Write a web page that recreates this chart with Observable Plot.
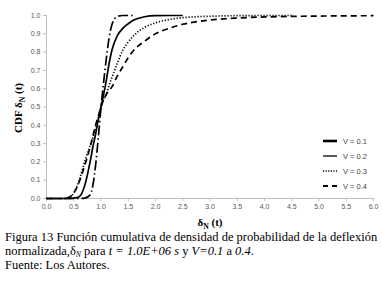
<!DOCTYPE html>
<html><head><meta charset="utf-8">
<script src="https://cdn.jsdelivr.net/npm/d3@7"></script>
<script src="https://cdn.jsdelivr.net/npm/@observablehq/plot@0.6"></script>
<style>
body{margin:0;background:#fff;}
#wrap{position:relative;width:382px;height:283px;overflow:hidden;}
#chart svg{display:block;}
.lbl{position:absolute;font-family:"Liberation Serif","Times New Roman",serif;font-weight:bold;color:#000;white-space:nowrap;line-height:12px;}
.lbl sub{font-size:70%;line-height:0;}
#ylab{left:18px;top:108px;font-size:11px;transform:translate(-50%,-50%) rotate(-90deg);}
#xlab{left:210px;top:222px;font-size:11px;transform:translate(-50%,-50%);}
#legend{position:absolute;left:322px;top:134px;}
#caption{position:absolute;left:5px;top:230px;font-family:"Liberation Serif","Times New Roman",serif;font-size:12.5px;line-height:14px;color:#000;white-space:nowrap;}
#caption sub{font-size:62%;font-style:italic;line-height:0;vertical-align:-1.5px;}
</style></head><body>
<div id="wrap">
<div id="chart"></div>
<div id="ylab" class="lbl">CDF δ<sub>N</sub> (t)</div>
<div id="xlab" class="lbl">δ<sub>N</sub> (t)</div>
<div id="legend"></div>
<div id="caption">Figura 13 Función cumulativa de densidad de probabilidad de la deflexión<br>normalizada,δ<sub>N</sub> para <i>t = 1.0E+06 s</i> y <i>V=0.1</i> a <i>0.4</i>.<br>Fuente: Los Autores.</div>
</div>
<script>
const xGrid = [0, 0.3, 0.4, 0.5, 0.6, 0.7, 0.8, 0.85, 0.9, 0.95, 1.0, 1.05, 1.1, 1.15, 1.2, 1.3, 1.4, 1.5, 1.6, 1.8, 2.0, 2.25, 2.5, 3.0, 3.5, 4.0, 4.5, 5.0, 5.5, 6.0];
const v01 = [0, 0, 0, 0, 0, 0.002, 0.02, 0.07, 0.18, 0.33, 0.5, 0.64, 0.77, 0.88, 0.95, 0.995, 1.0, 1.0, 1.0, null, null, null, null, null, null, null, null, null, null, null];
const v02 = [0, 0, 0, 0.002, 0.01, 0.07, 0.2, 0.28, 0.35, 0.43, 0.5, 0.57, 0.65, 0.74, 0.81, 0.89, 0.93, 0.955, 0.975, 0.993, 0.999, 1.0, 1.0, null, null, null, null, null, null, null];
const v03 = [0, 0, 0.002, 0.03, 0.1, 0.2, 0.29, 0.33, 0.38, 0.44, 0.5, 0.54, 0.57, 0.62, 0.66, 0.74, 0.81, 0.855, 0.89, 0.935, 0.96, 0.978, 0.988, 0.996, 0.999, 1.0, 1.0, null, null, null];
const v04 = [0, 0, 0.005, 0.03, 0.09, 0.18, 0.28, 0.34, 0.4, 0.45, 0.5, 0.54, 0.57, 0.59, 0.61, 0.67, 0.72, 0.77, 0.81, 0.86, 0.9, 0.93, 0.952, 0.975, 0.986, 0.992, 0.995, 0.997, 0.998, 0.999];
const seriesNames = ["V = 0.1", "V = 0.2", "V = 0.3", "V = 0.4"];
const xTicks = [0, 0.5, 1, 1.5, 2, 2.5, 3, 3.5, 4, 4.5, 5, 5.5, 6];
const yTicks = [0, 0.1, 0.2, 0.3, 0.4, 0.5, 0.6, 0.7, 0.8, 0.9, 1.0];

const styles = [
  {strokeWidth: 1.7, strokeDasharray: "10,3,1.5,3", legendWidth: 2.6, legendDash: "14"},
  {strokeWidth: 1.7, strokeDasharray: null, legendWidth: 1.3, legendDash: null},
  {strokeWidth: 1.7, strokeDasharray: "1.2,1.8", legendWidth: 1.5, legendDash: "1.2,1.4"},
  {strokeWidth: 1.7, strokeDasharray: "6,4", legendWidth: 2.2, legendDash: "5,4"}
];
const allVals = [v01, v02, v03, v04];
const rows = [];
allVals.forEach((vals, k) => vals.forEach((v, i) => { if (v !== null) rows.push({x: xGrid[i], y: v, s: seriesNames[k]}); }));

const marks = [
  Plot.ruleY([0], {stroke: "#bfbfbf"}),
  Plot.ruleX([0], {stroke: "#bfbfbf"}),
  Plot.axisX({ticks: xTicks, tickFormat: d3.format(".1f"), tickSize: 3, tickPadding: 3, stroke: "#bfbfbf", fill: "#595959", fontSize: 7, label: null}),
  Plot.axisY({ticks: yTicks, tickFormat: d3.format(".1f"), tickSize: 3, tickPadding: 3, stroke: "#bfbfbf", fill: "#595959", fontSize: 7, label: null})
];
[3, 2, 1, 0].forEach(k => {
  marks.push(Plot.line(rows.filter(d => d.s === seriesNames[k]), {
    x: "x", y: "y", curve: "monotone-x", stroke: "#000",
    strokeWidth: styles[k].strokeWidth,
    strokeDasharray: styles[k].strokeDasharray || undefined,
    strokeLinecap: "butt"
  }));
});

const chart = Plot.plot({
  width: 382, height: 225,
  marginLeft: 46, marginRight: 9, marginTop: 15, marginBottom: 27,
  x: {domain: [0, 6]},
  y: {domain: [0, 1]},
  style: {fontFamily: "'Liberation Sans', Arial, sans-serif", background: "#fff"},
  marks
});
document.getElementById("chart").appendChild(chart);

// legend
const lg = d3.select("#legend").append("svg").attr("width", 60).attr("height", 62)
  .style("font-family", "'Liberation Sans', Arial, sans-serif").style("font-size", "7.5px");
seriesNames.forEach((name, k) => {
  const y = 7 + k * 15;
  lg.append("line").attr("x1", 1).attr("x2", 15).attr("y1", y).attr("y2", y)
    .attr("stroke", "#000").attr("stroke-width", styles[k].legendWidth)
    .attr("stroke-dasharray", styles[k].legendDash);
  lg.append("text").attr("x", 21).attr("y", y + 2.6).attr("fill", "#404040").text(name);
});
</script>
</body></html>
